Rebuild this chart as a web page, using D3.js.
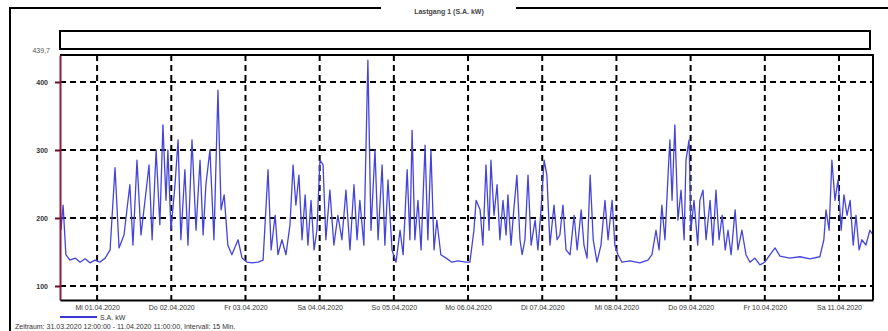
<!DOCTYPE html>
<html>
<head>
<meta charset="utf-8">
<script src="https://cdn.jsdelivr.net/npm/d3@7"></script>
<style>
  html, body { margin: 0; padding: 0; background: #fff; }
  svg { display: block; }
  text { font-family: "Liberation Sans", Arial, sans-serif; }
</style>
</head>
<body>
<svg id="chart" width="888" height="331"></svg>
<script>
// ---- chart content ----
const titleText = "Lastgang 1 (S.A. kW)";
const seriesName = "S.A. kW";
const footerText = "Zeitraum:  31.03.2020 12:00:00 - 11.04.2020 11:00:00,  Intervall: 15 Min.";
const startTime = "2020-03-31T12:00:00";
const endTime = "2020-04-11T11:00:00";

// y axis
const yMin = 79.4;
const yMax = 439.7;
const yTicks = [100, 200, 300, 400];
const yTopLabel = "439,7";

// load series: hours after start, value in kW
const hours = [0.3,1.0,1.9,3.2,4.9,6.5,8.1,9.7,11.3,12.9,14.6,16.2,17.8,19.1,20.7,22.6,23.6,24.9,26.2,27.5,28.8,29.8,31.1,32.3,33.3,34.3,34.9,35.9,37.2,38.2,39.1,40.4,41.4,42.7,44.0,45.3,46.3,47.2,48.5,49.8,51.1,52.1,53.1,54.3,55.6,57.6,58.9,60.5,62.1,64.1,65.7,67.3,68.3,69.6,70.5,71.8,73.1,74.4,75.4,76.3,77.3,78.3,79.3,80.2,81.2,82.2,83.1,84.1,85.1,86.0,87.3,88.6,89.9,91.2,92.5,93.8,95.1,96.1,97.0,98.3,99.6,100.6,101.9,102.9,104.2,105.1,106.1,107.4,108.7,110.0,111.0,112.3,113.2,113.9,114.8,115.8,116.8,118.1,119.0,120.0,121.0,121.9,123.2,124.9,126.8,128.7,131.3,132.6,133.9,134.6,135.9,136.8,137.8,138.8,139.4,140.4,141.4,142.3,143.3,144.3,144.9,145.9,146.8,147.8,148.8,149.5,150.4,151.4,152.4,153.7,154.6,155.6,156.6,157.5,158.5,159.8,160.8,161.7,162.7,163.7,165.0,166.3,167.3,168.6,169.5,170.5,171.5,172.5,173.7,175.0,176.3,177.3,178.6,179.5,180.5,181.8,184.4,187.6,190.2,191.5,192.8,193.8,194.7,195.7,196.7,197.3,198.0,198.9,199.9,200.9,201.9,202.5,203.5,204.1,205.1,206.3,207.0,208.0,209.0,210.3,211.2,212.2,213.2,214.2,215.2,216.1,217.1,218.4,219.3,220.6,221.9,223.2,224.8,226.4,228.0,229.7,231.3,232.9,236.1,239.4,242.6,245.8,247.1,247.8,248.8,249.7,250.7,251.7,252.7,253.6,254.6,255.6,256.6,257.5,258.5,259.4,260.7,262.0,263.0];
const load = [182,219,146,138,141,135,140,134,138,135,141,153,274,156,175,249,160,285,175,226,278,168,300,190,337,226,300,182,249,315,168,271,160,315,182,285,175,249,300,168,388,212,234,160,146,168,141,135,134,135,138,271,153,204,146,168,146,190,278,219,263,168,234,160,226,153,182,285,278,168,241,160,204,168,241,153,249,168,226,160,432,182,300,168,278,160,256,153,135,182,146,271,168,329,168,226,153,307,168,300,153,197,146,141,135,137,135,135,182,226,212,160,278,182,285,204,249,168,226,175,234,160,212,263,168,146,168,263,160,197,153,212,285,263,160,219,168,175,219,153,146,204,153,212,160,141,263,168,135,160,226,168,226,160,146,135,137,134,138,146,182,153,219,168,263,315,226,337,197,241,168,285,315,182,226,160,226,241,168,226,160,241,168,204,153,182,146,212,153,182,146,135,141,131,135,146,156,144,141,143,140,143,168,212,182,285,226,256,182,234,204,226,160,204,153,168,160,182,175];

// ---- layout ----
const svg = d3.select("#chart");
const plot = { left: 60, right: 873, top: 55, bottom: 300 };

const de = d3.timeFormatLocale({
  dateTime: "%A, der %e. %B %Y, %X", date: "%d.%m.%Y", time: "%H:%M:%S",
  periods: ["AM", "PM"],
  days: ["Sonntag","Montag","Dienstag","Mittwoch","Donnerstag","Freitag","Samstag"],
  shortDays: ["So","Mo","Di","Mi","Do","Fr","Sa"],
  months: ["Januar","Februar","März","April","Mai","Juni","Juli","August","September","Oktober","November","Dezember"],
  shortMonths: ["Jan","Feb","Mrz","Apr","Mai","Jun","Jul","Aug","Sep","Okt","Nov","Dez"]
});
const fmtDay = de.format("%a %d.%m.%Y");

const t0 = new Date(startTime), t1 = new Date(endTime);
const x = d3.scaleTime().domain([t0, t1]).range([plot.left, plot.right]);
const y = d3.scaleLinear().domain([yMin, yMax]).range([plot.bottom, plot.top]);
const dayTicks = d3.timeDay.range(d3.timeDay.ceil(t0), t1);

// outer frame with the title cut into its top edge
svg.append("rect").attr("x", 10).attr("y", 8).attr("width", 900).attr("height", 340)
  .attr("fill", "none").attr("stroke", "#000").attr("stroke-width", 2);
svg.append("rect").attr("x", 381).attr("y", 2).attr("width", 135).attr("height", 13).attr("fill", "#fff");
svg.append("text").attr("x", 449).attr("y", 14).attr("text-anchor", "middle")
  .attr("font-size", 7).attr("font-weight", "bold").attr("fill", "#444").text(titleText);

// header box above the plot
svg.append("rect").attr("x", 60).attr("y", 31).attr("width", 810).attr("height", 18)
  .attr("fill", "#fff").attr("stroke", "#000").attr("stroke-width", 2);

// grid
const grid = svg.append("g").attr("stroke", "#000").attr("stroke-width", 2).attr("stroke-dasharray", "6,4");
grid.selectAll("line.h").data(yTicks).join("line").attr("class", "h")
  .attr("x1", plot.left).attr("x2", plot.right).attr("y1", d => y(d)).attr("y2", d => y(d));
grid.selectAll("line.v").data(dayTicks).join("line").attr("class", "v")
  .attr("x1", d => x(d)).attr("x2", d => x(d)).attr("y1", plot.top).attr("y2", plot.bottom);

// series
const line = d3.line().x((d, i) => x(new Date(+t0 + hours[i] * 3600e3))).y(d => y(d));
svg.append("path").datum(load).attr("d", line)
  .attr("fill", "none").attr("stroke", "#4444dc").attr("stroke-width", 1.3)
  .attr("stroke-linejoin", "round");

// plot frame: top and right edge
svg.append("path").attr("d", `M${plot.left},${plot.top}H${plot.right}V${plot.bottom}`)
  .attr("fill", "none").attr("stroke", "#000").attr("stroke-width", 2);

// y axis (red)
const yAxis = svg.append("g").attr("transform", `translate(${plot.left},0)`)
  .call(d3.axisLeft(y).tickValues(yTicks).tickSize(5).tickPadding(7).tickFormat(d3.format("d")).tickSizeOuter(0));
yAxis.select(".domain").attr("stroke", "#8c1c3c").attr("stroke-width", 2);
yAxis.selectAll(".tick line").attr("stroke", "#6a1028").attr("stroke-width", 2);
yAxis.selectAll(".tick text").attr("font-size", 7).attr("fill", "#333").attr("font-weight", "bold");
svg.append("text").attr("x", 50).attr("y", y(yMax) - 2).attr("text-anchor", "end")
  .attr("font-size", 7).attr("fill", "#555").text(yTopLabel);

// x axis
const xAxis = svg.append("g").attr("transform", `translate(0,${plot.bottom})`)
  .call(d3.axisBottom(x).tickValues(dayTicks).tickSize(0).tickPadding(5).tickFormat(fmtDay).tickSizeOuter(0));
xAxis.select(".domain").attr("stroke", "#000").attr("stroke-width", 2);
xAxis.selectAll(".tick text").attr("font-size", 7).attr("fill", "#333");

// legend
svg.append("line").attr("x1", 60).attr("x2", 97).attr("y1", 317).attr("y2", 317)
  .attr("stroke", "#3a3ad0").attr("stroke-width", 2);
svg.append("text").attr("x", 100).attr("y", 320).attr("font-size", 7).attr("fill", "#333").text(seriesName);

// footer
svg.append("text").attr("x", 15).attr("y", 329).attr("font-size", 7).attr("fill", "#333").text(footerText);
</script>
</body>
</html>
